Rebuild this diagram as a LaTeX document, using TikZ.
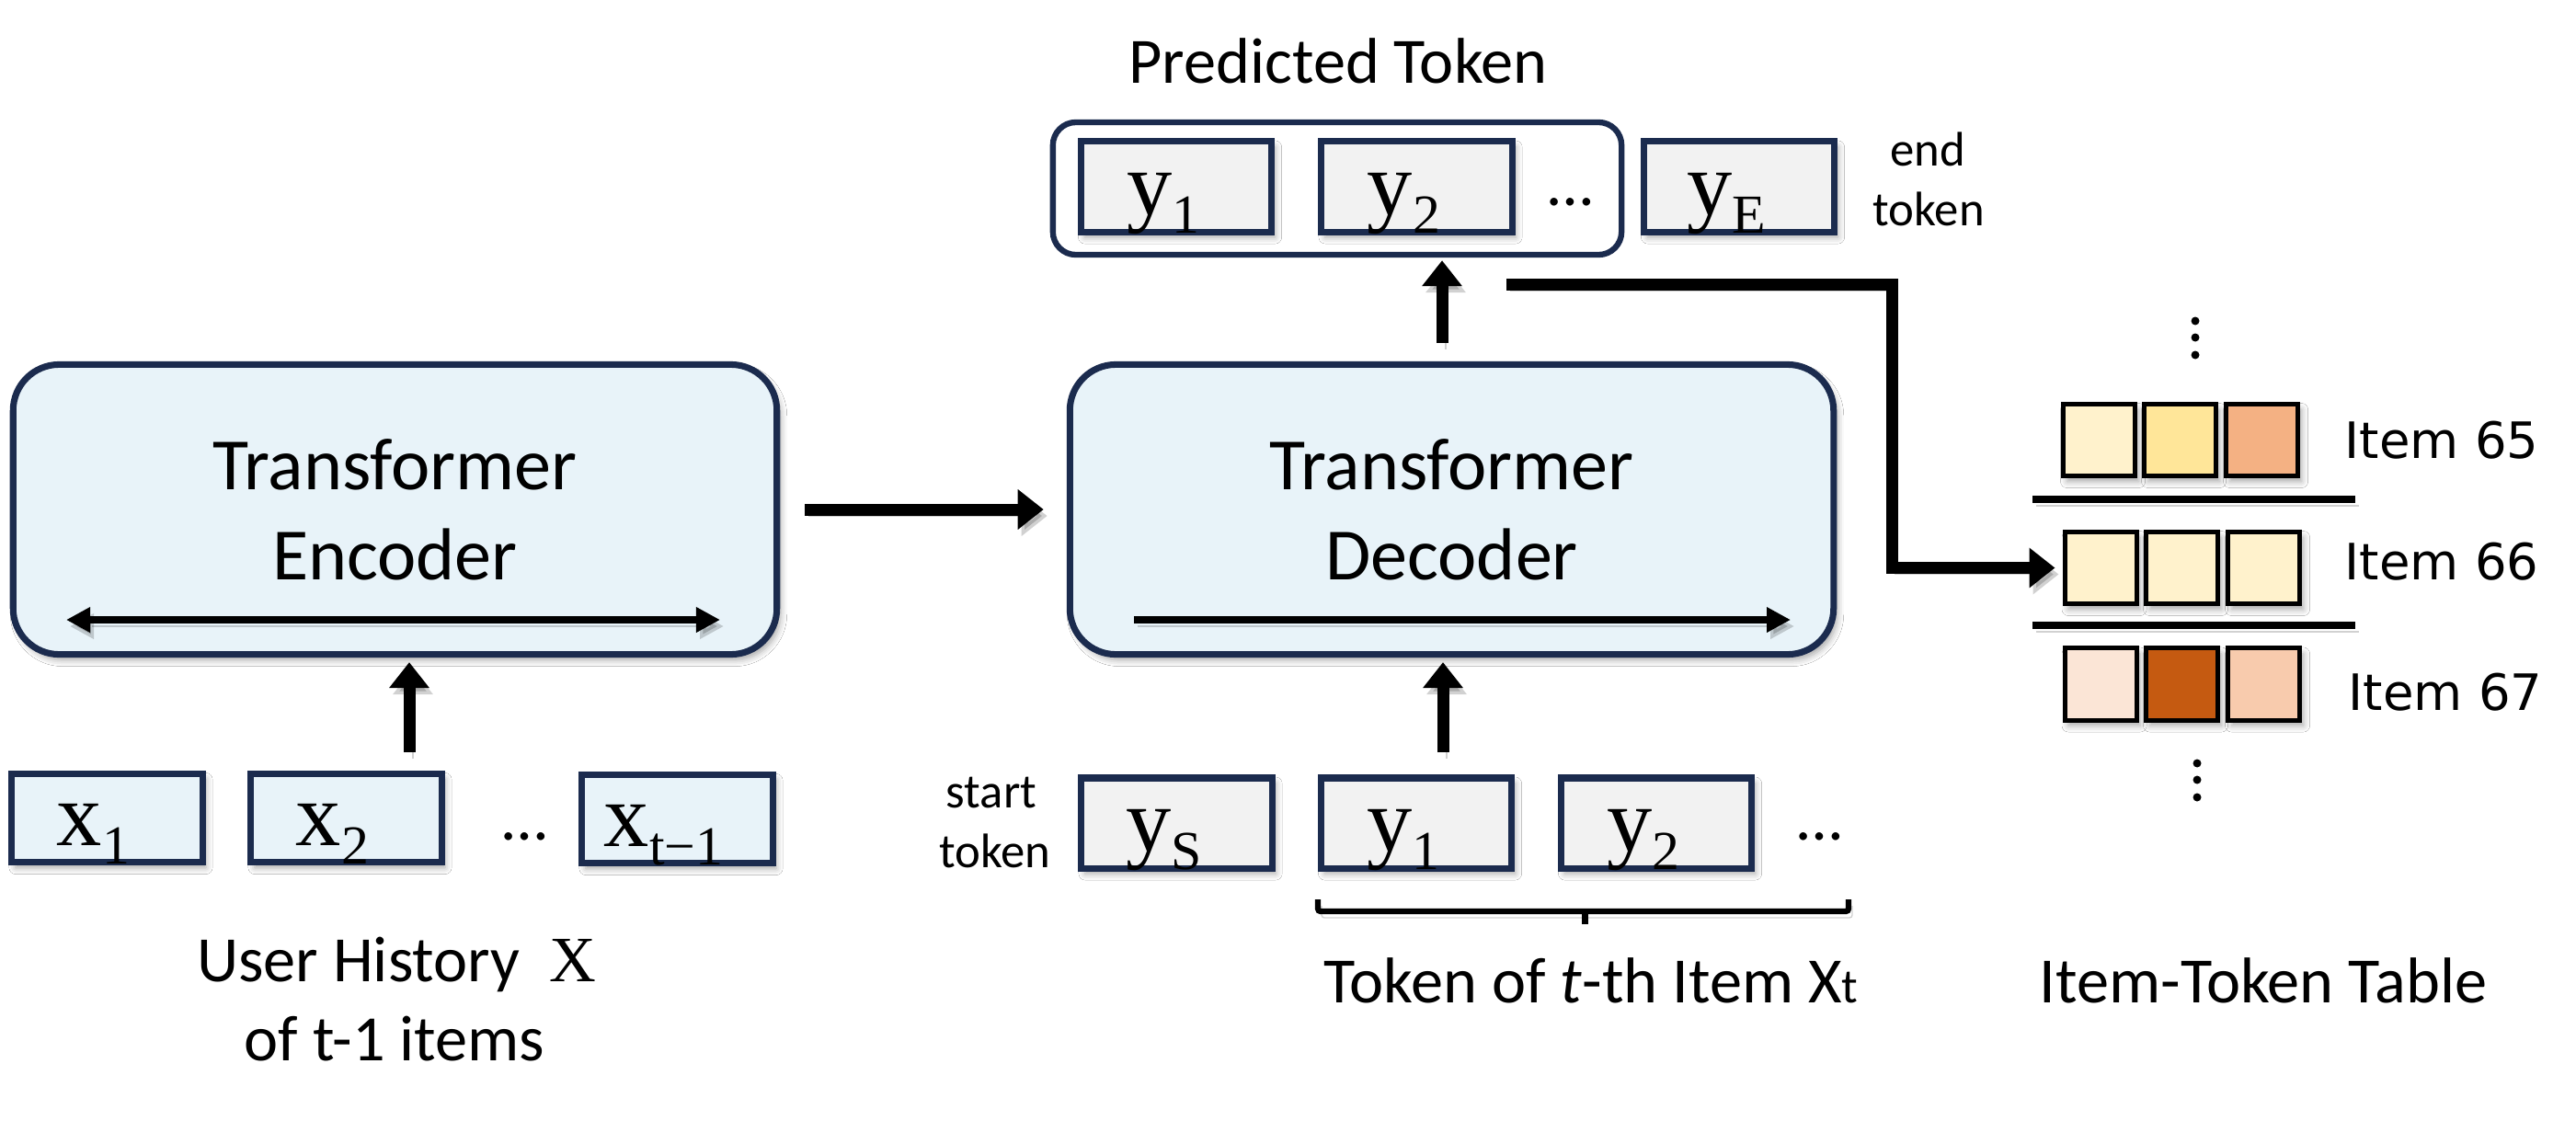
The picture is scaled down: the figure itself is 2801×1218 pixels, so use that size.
\documentclass[tikz,border=0pt]{standalone}
\usepackage{fontspec}
\setmainfont{Carlito}
\newfontfamily\serifm{Liberation Serif}
\newfontfamily\comicf{DejaVu Sans}
\usetikzlibrary{arrows.meta,shadows,shadows.blur,calc}
\definecolor{navy}{HTML}{1B2B4E}
\definecolor{lblue}{HTML}{E8F3F9}
\definecolor{lgray}{HTML}{F2F2F2}
\definecolor{cA}{HTML}{FFF2CC}
\definecolor{cB}{HTML}{FFE699}
\definecolor{cC}{HTML}{F4B183}
\definecolor{cD}{HTML}{FBE5D6}
\definecolor{cE}{HTML}{C55A11}
\definecolor{cF}{HTML}{F8CBAD}
\newcommand{\tokx}[2]{{\fontsize{28}{28}\selectfont\serifm #1}\raisebox{-0.2cm}{\fontsize{17}{18}\selectfont\serifm #2}}
\tikzset{
  shad/.style={blur shadow={shadow xshift=0.04cm, shadow yshift=-0.06cm, shadow blur radius=0.07cm, shadow opacity=35}},
  lshad/.style={preaction={draw=black, opacity=0.18, transform canvas={xshift=0.04cm, yshift=-0.07cm}}},
  bigbox/.style={draw=navy, line width=2pt, fill=lblue, rounded corners=0.5cm, minimum width=8.30cm, minimum height=3.15cm, inner sep=0, shad},
  tokbox/.style={draw=navy, line width=2pt, minimum width=2.07cm, minimum height=0.96cm, inner sep=0, shad},
  xbox/.style={tokbox, fill=lblue},
  ybox/.style={tokbox, fill=lgray, minimum height=0.98cm},
  grpbox/.style={draw=navy, line width=1.8pt, rounded corners=0.25cm, minimum width=6.18cm, minimum height=1.44cm, inner sep=0},
  sq/.style={draw=black, line width=1.42pt, minimum width=0.78cm, minimum height=0.78cm, inner sep=0, shad},
  bigtxt/.style={font=\fontsize{22.8}{27}\selectfont, inner sep=0, anchor=base},
  lbl/.style={font=\fontsize{20}{24}\selectfont, inner sep=0, anchor=base},
  small/.style={font=\fontsize{15}{18}\selectfont, inner sep=0, anchor=base},
  itemlbl/.style={font=\comicf\fontsize{15.5}{18}\selectfont, inner sep=0, anchor=base west},
  toktxt/.style={inner sep=0, anchor=base},
  bigarrow/.style={line width=3.7pt, -{Triangle[length=0.28cm,width=0.42cm]}, lshad},
  inarrow/.style={line width=2.3pt, -{Triangle[length=0.26cm,width=0.26cm]}, lshad},
  inarrows/.style={line width=2.3pt, {Triangle[length=0.26cm,width=0.26cm]}-{Triangle[length=0.26cm,width=0.26cm]}, lshad},
  sepline/.style={line width=2pt, lshad},
  dotc/.style={circle, fill=black, inner sep=0, minimum size=0.09cm},
}
\begin{document}
\begin{tikzpicture}[x=0.01cm, y=-0.01cm]
\useasboundingbox[fill=white] (0,0) rectangle (2801,1218);

% Encoder / Decoder
\node[bigbox] (enc) at (429.5,554) {};
\node[bigtxt] (encT1) at (429.5,532) {Transformer};
\node[bigtxt] (encT2) at (429.5,630) {Encoder};
\node[bigbox] (dec) at (1578.5,554) {};
\node[bigtxt] (decT1) at (1578.5,532) {Transformer};
\node[bigtxt] (decT2) at (1578.5,630) {Decoder};

\coordinate (encL) at (72,674);
\coordinate (encR) at (783,674);
\draw[inarrows] (encL) -- (encR);
\coordinate (decL) at (1233,674);
\coordinate (decR) at (1947,674);
\draw[inarrow] (decL) -- (decR);

\draw[bigarrow, shorten <=0.27cm, shorten >=0.25cm] (enc) -- (dec);

% User history
\node[xbox] (x1) at (116.5,889.5) {};
\node[xbox] (x2) at (376.5,889.5) {};
\node[xbox] (xt) at (736.5,890.5) {};
\node[toktxt] (x1t) at (101.5,919) {\tokx{x}{1}};
\node[toktxt] (x2t) at (361.5,919) {\tokx{x}{2}};
\node[toktxt] (xtt) at (721.5,920) {\tokx{x}{t−1}};
\node[lbl] (xdots) at (571,913) {…};
\node[lbl] (uh1) at (431,1067) {User History~~\serifm X};
\node[lbl] (uh2) at (429,1153) {of t-1 items};

\coordinate (encIn) at (445,818);
\draw[bigarrow, shorten >=0.05cm] (encIn) -- (encIn |- enc.south);

% Decoder input
\node[ybox] (yS) at (1279.5,895) {};
\node[ybox] (yb1) at (1540,895) {};
\node[ybox] (yb2) at (1801,895) {};
\node[toktxt] (ySt) at (1265.5,925) {\tokx{y}{S}};
\node[toktxt] (yb1t) at (1526,925) {\tokx{y}{1}};
\node[toktxt] (yb2t) at (1787,925) {\tokx{y}{2}};
\node[lbl] (ydots) at (1979,913) {…};
\node[small] (st1) at (1078,878) {start};
\node[small] (st2) at (1082,943) {token};

\coordinate (decIn) at (1569,818);
\draw[bigarrow, shorten >=0.05cm] (decIn) -- (decIn |- dec.south);

\coordinate (brL) at (1433,978);
\coordinate (brR) at (2010,978);
\coordinate (brM) at (1723,991);
\draw[line width=1.8pt, rounded corners=0.03cm, lshad] (brL) -- (brL |- brM) -- (brR |- brM) -- (brR);
\draw[line width=2pt] (brM) -- ++(0,14);
\node[lbl] (tokT) at (1730,1090) {Token of \textit{t}-th Item X{\fontsize{15}{15}\selectfont t}};

% Predicted tokens
\node[grpbox] (pred) at (1454,205) {};
\node[ybox] (p1) at (1279,203) {};
\node[ybox] (p2) at (1540.5,203) {};
\node[ybox] (pE) at (1891,203) {};
\node[toktxt] (p1t) at (1265,233) {\tokx{y}{1}};
\node[toktxt] (p2t) at (1526.5,233) {\tokx{y}{2}};
\node[toktxt] (pEt) at (1877,233) {\tokx{y}{E}};
\node[lbl] (pdots) at (1708,223) {…};
\node[lbl] (predT) at (1455,90) {Predicted Token};
\node[small] (end1) at (2096,180) {end};
\node[small] (end2) at (2097,245) {token};

\coordinate (decOut) at (1568,373);
\draw[bigarrow, shorten >=0.03cm] (decOut) -- (decOut |- pred.south);

% Item-token table
\node[sq, fill=cA] (s651) at (2282.5,478.5) {};
\node[sq, fill=cB] (s652) at (2370.5,478.5) {};
\node[sq, fill=cC] (s653) at (2459.5,478.5) {};
\node[sq, fill=cA] (s661) at (2284,617.5) {};
\node[sq, fill=cA] (s662) at (2372.5,617.5) {};
\node[sq, fill=cA] (s663) at (2461.5,617.5) {};
\node[sq, fill=cD] (s671) at (2284,744) {};
\node[sq, fill=cE] (s672) at (2372.5,744) {};
\node[sq, fill=cF] (s673) at (2461.5,744) {};
\node[itemlbl] (i65) at (2549,498) {Item 65};
\node[itemlbl] (i66) at (2549,630) {Item 66};
\node[itemlbl] (i67) at (2553,772) {Item 67};
\coordinate (sep1L) at (2210,543);
\coordinate (sep1R) at (2561,543);
\coordinate (sep2L) at (2210,680);
\coordinate (sep2R) at (2561,680);
\draw[sepline] (sep1L) -- (sep1R);
\draw[sepline] (sep2L) -- (sep2R);
\node[dotc] (td1) at (2387,349) {};
\node[dotc] (td2) at (2387,367) {};
\node[dotc] (td3) at (2387,386) {};
\node[dotc] (bd1) at (2389,830) {};
\node[dotc] (bd2) at (2389,848) {};
\node[dotc] (bd3) at (2389,867) {};
\node[lbl] (tblT) at (2461,1090) {Item-Token Table};

% connector from prediction to table
\coordinate (cstart) at (1638,309.5);
\coordinate (cbend) at (2057,309.5);
\draw[bigarrow, shorten >=0.08cm] (cstart) -- (cbend) |- (s661.west);
\end{tikzpicture}
\end{document}
